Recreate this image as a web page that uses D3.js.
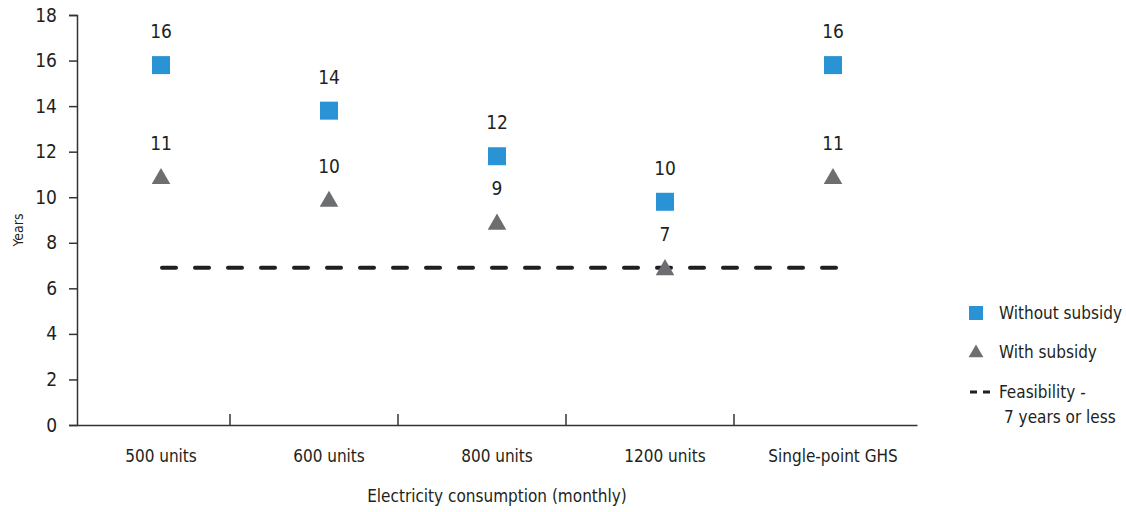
<!DOCTYPE html>
<html><head><meta charset="utf-8">
<script src="https://cdn.jsdelivr.net/npm/d3@7"></script>
<style>
body{margin:0;background:#fff;}
text{font-family:"Liberation Sans Narrow","DejaVu Sans Condensed","Roboto",sans-serif;fill:#231f20;}
</style></head><body>
<svg id="c" width="1126" height="512"></svg>
<script>
const categories = ["500 units","600 units","800 units","1200 units","Single-point GHS"];
const withoutSubsidy = [15.8, 13.8, 11.8, 9.8, 15.8];
const withSubsidy = [10.9, 9.9, 8.9, 6.9, 10.9];
const feasibility = 6.9;
const yTicks = [0,2,4,6,8,10,12,14,16,18];
const legendItems = ["Without subsidy","With subsidy","Feasibility -|7 years or less"];

const svg = d3.select("#c");
const m = {l:77, r:209, t:15, b:87};
const W = 1126, H = 512;
const x = d3.scaleBand().domain(categories).range([m.l, W-m.r]).padding(0);
const y = d3.scaleLinear().domain([0,18]).range([H-m.b, m.t]);
const blue = "#2a93d5", gray = "#6d6e71";

// Y axis
const ya = svg.append("g").attr("transform",`translate(${m.l},0)`)
  .call(d3.axisLeft(y).tickValues(yTicks).tickSize(8).tickPadding(12).tickSizeOuter(8));
ya.select(".domain").attr("stroke","#333").attr("stroke-width",1.5);
ya.selectAll(".tick line").attr("stroke","#333").attr("stroke-width",1.5);
ya.selectAll(".tick text").style("font-size","19px").attr("fill","#231f20");

// X axis
const xa = svg.append("g").attr("transform",`translate(0,${y(0)})`)
  .call(d3.axisBottom(x).tickSize(0).tickPadding(25));
xa.select(".domain").attr("stroke","#333").attr("stroke-width",1.5);
xa.selectAll(".tick text").style("font-size","17px").attr("fill","#231f20");
// inner separator ticks
xa.selectAll(".bt").data(categories.slice(1)).enter().append("line")
  .attr("x1",d=>x(d)-15).attr("x2",d=>x(d)-15).attr("y1",0).attr("y2",-11)
  .attr("stroke","#333").attr("stroke-width",1.5);

// axis titles
svg.append("text").attr("x",(m.l+W-m.r)/2).attr("y",502).attr("text-anchor","middle")
  .style("font-size","17px").text("Electricity consumption (monthly)");
svg.append("text").attr("transform",`translate(23,${(y(0)+y(18))/2 + 10}) rotate(-90)`)
  .attr("text-anchor","middle").style("font-size","14px").text("Years");

// feasibility line
svg.append("line").attr("x1",x(categories[0])+x.bandwidth()/2-1)
  .attr("x2",x(categories[4])+x.bandwidth()/2+2)
  .attr("y1",y(feasibility)).attr("y2",y(feasibility))
  .attr("stroke","#1f1f1f").attr("stroke-width",4).attr("stroke-dasharray","14,19")
  .attr("stroke-linecap","round").attr("transform","translate(2,0)");

const cx = d => x(d)+x.bandwidth()/2;
const sq = d3.symbol().type(d3.symbolSquare).size(18*18);
const tri = d3.symbol().type(d3.symbolTriangle).size(150);

// triangles
svg.selectAll(".tri").data(categories).enter().append("path")
  .attr("d",tri).attr("fill",gray)
  .attr("transform",(d,i)=>`translate(${cx(d)},${y(withSubsidy[i])+2})`);
// squares
svg.selectAll(".sq").data(categories).enter().append("path")
  .attr("d",sq).attr("fill",blue)
  .attr("transform",(d,i)=>`translate(${cx(d)},${y(withoutSubsidy[i])})`);

// labels
const fmt = d3.format(".0f");
svg.selectAll(".ls").data(categories).enter().append("text")
  .attr("x",cx).attr("y",(d,i)=>y(withoutSubsidy[i])-27).attr("text-anchor","middle")
  .style("font-size","19px").text((d,i)=>fmt(withoutSubsidy[i]));
svg.selectAll(".lt").data(categories).enter().append("text")
  .attr("x",cx).attr("y",(d,i)=>y(withSubsidy[i])-27).attr("text-anchor","middle")
  .style("font-size","19px").text((d,i)=>fmt(withSubsidy[i]));

// legend
const lg = svg.append("g");
const ly = [313, 352, 392];
lg.append("path").attr("d",d3.symbol().type(d3.symbolSquare).size(14*14))
  .attr("fill",blue).attr("transform",`translate(976,${ly[0]})`);
lg.append("path").attr("d",d3.symbol().type(d3.symbolTriangle).size(95))
  .attr("fill",gray).attr("transform",`translate(976,${ly[1]+1})`);
lg.append("line").attr("x1",970).attr("x2",990).attr("y1",ly[2]).attr("y2",ly[2])
  .attr("stroke","#1f1f1f").attr("stroke-width",3).attr("stroke-dasharray","7,6");
legendItems.forEach((t,i)=>{
  const parts = t.split("|");
  const tx = lg.append("text").attr("x",999).attr("y",ly[i]+6).style("font-size","17px");
  parts.forEach((p,j)=>tx.append("tspan").attr("x",j? 1004:999).attr("dy",j?25:0).text(p));
});
</script></body></html>
